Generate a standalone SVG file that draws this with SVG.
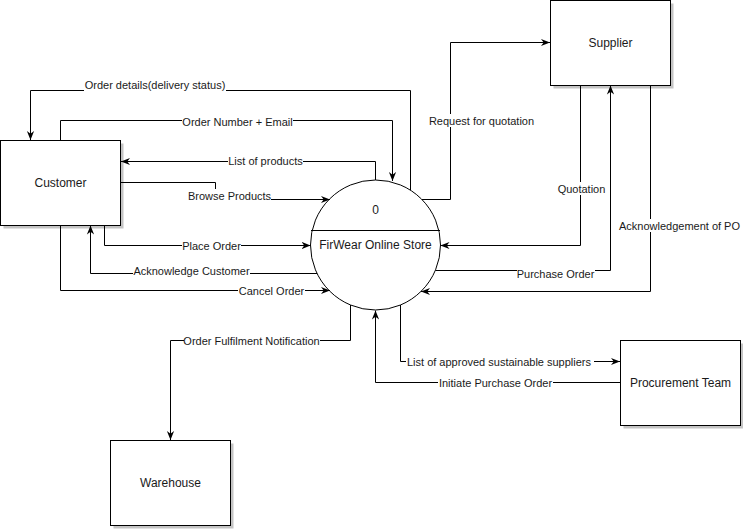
<svg xmlns="http://www.w3.org/2000/svg" width="743" height="529" viewBox="0 0 743 529">
<style>
.box{fill:#fff;stroke:#000;stroke-width:1}
.shadow{fill:#c4c4c4}
.nt{font-family:"Liberation Sans",Arial,sans-serif;font-size:12px;fill:#1a1a1a;text-anchor:middle;dominant-baseline:central}
.lt{font-family:"Liberation Sans",Arial,sans-serif;font-size:11px;fill:#1a1a1a;text-anchor:middle;dominant-baseline:central}
.edge{fill:none;stroke:#000;stroke-width:1;marker-end:url(#arr)}
.lbg{fill:#fff}
</style>
<defs>
<marker id="arr" viewBox="0 0 10 10" refX="10" refY="5" markerWidth="9" markerHeight="9" orient="auto" markerUnits="userSpaceOnUse">
<path d="M0,1 L10,5 L0,9 L3,5 z" fill="#000"/>
</marker>
</defs>
<rect width="743" height="529" fill="#fff"/>

<g id="customer">
<rect class="shadow" x="3.5" y="143.5" width="120" height="85"/>
<rect class="box" x="0.5" y="140.5" width="120" height="85"/>
<text class="nt" x="60.5" y="183">Customer</text>
</g>
<g id="supplier">
<rect class="shadow" x="553.5" y="3.5" width="120" height="85"/>
<rect class="box" x="550.5" y="0.5" width="120" height="85"/>
<text class="nt" x="610.5" y="43">Supplier</text>
</g>
<g id="procurement">
<rect class="shadow" x="623.5" y="343.5" width="120" height="85"/>
<rect class="box" x="620.5" y="340.5" width="120" height="85"/>
<text class="nt" x="680.5" y="383">Procurement Team</text>
</g>
<g id="warehouse">
<rect class="shadow" x="113.5" y="443.5" width="120" height="85"/>
<rect class="box" x="110.5" y="440.5" width="120" height="85"/>
<text class="nt" x="170.5" y="483">Warehouse</text>
</g>
<g id="process">
<circle cx="375.5" cy="245" r="65" fill="#fff" stroke="#000" stroke-width="1"/>
<line x1="311" y1="230.5" x2="440" y2="230.5" stroke="#000" stroke-width="1"/>
<text class="nt" x="375.5" y="209.5">0</text>
<text class="nt" x="375.5" y="245">FirWear Online Store</text>
</g>

<g id="connectors">
<path class="edge" d="M410.5,190 V90.5 H30.5 V140"/>
<path class="edge" d="M60.5,140 V120.5 H392.5 V181"/>
<path class="edge" d="M375.5,180 V161.5 H121"/>
<path class="edge" d="M121,182.5 H215.5 V199.5 H330"/>
<path class="edge" d="M104.5,225 V245.5 H310.5"/>
<path class="edge" d="M317,273.5 H90.5 V225.5"/>
<path class="edge" d="M60.5,225 V290.5 H330"/>
<path class="edge" d="M422,199.5 H450.5 V42.5 H550"/>
<path class="edge" d="M580.5,85 V245.5 H440.5"/>
<path class="edge" d="M435.5,270.5 H610.5 V85.5"/>
<path class="edge" d="M650.5,85 V291.5 H421"/>
<path class="edge" d="M350.5,305 V340.5 H170.5 V440"/>
<path class="edge" d="M400.5,305 V361.5 H620"/>
<path class="edge" d="M620,382.5 H375.5 V310.5"/>

<g id="labels">
<rect class="lbg" x="84" y="79" width="142" height="13"/>
<text class="lt" x="155" y="85">Order details(delivery status)</text>
<rect class="lbg" x="182" y="115" width="111" height="13"/>
<text class="lt" x="237.5" y="121.5">Order Number + Email</text>
<rect class="lbg" x="228" y="155" width="75" height="13"/>
<text class="lt" x="265.5" y="161">List of products</text>
<rect class="lbg" x="188" y="189" width="83" height="13"/>
<text class="lt" x="229.5" y="196">Browse Products</text>
<rect class="lbg" x="182" y="239" width="59" height="13"/>
<text class="lt" x="211.5" y="245.5">Place Order</text>
<rect class="lbg" x="133" y="265" width="117" height="13"/>
<text class="lt" x="191.5" y="271">Acknowledge Customer</text>
<rect class="lbg" x="238" y="284" width="67" height="13"/>
<text class="lt" x="271.5" y="290.5">Cancel Order</text>
<rect class="lbg" x="429" y="114" width="105" height="13"/>
<text class="lt" x="481.5" y="121">Request for quotation</text>
<rect class="lbg" x="558" y="182" width="47" height="13"/>
<text class="lt" x="581.5" y="189">Quotation</text>
<rect class="lbg" x="517" y="267" width="78" height="13"/>
<text class="lt" x="555.5" y="274">Purchase Order</text>
<rect class="lbg" x="619" y="219" width="121" height="13"/>
<text class="lt" x="679.5" y="226">Acknowledgement of PO</text>
<rect class="lbg" x="184" y="334" width="136" height="13"/>
<text class="lt" x="251.5" y="340.5">Order Fulfilment Notification</text>
<rect class="lbg" x="406" y="355" width="188" height="13"/>
<text class="lt" x="499" y="361.5">List of approved sustainable suppliers</text>
<rect class="lbg" x="438" y="376" width="115" height="13"/>
<text class="lt" x="495.5" y="382.5">Initiate Purchase Order</text>
</g>
</g>
</svg>
